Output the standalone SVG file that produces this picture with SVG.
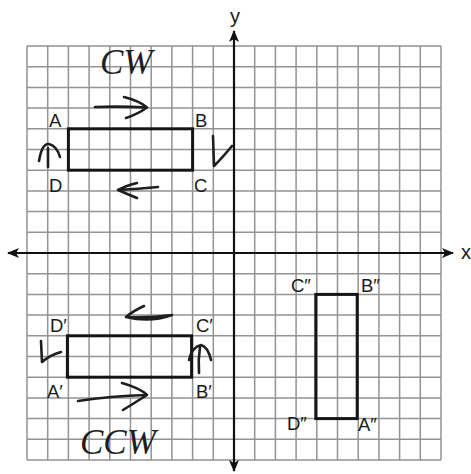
<svg xmlns="http://www.w3.org/2000/svg" width="471" height="474" viewBox="0 0 471 474">
<style>
.grid{fill:none;stroke:#939393;stroke-width:1.5}
.axis{fill:none;stroke:#111;stroke-width:2.2}
.shape{fill:none;stroke:#151515;stroke-width:3}
.lbl{font-family:"Liberation Sans",Arial,sans-serif;font-size:18.5px;fill:#1a1a1a}
.ax{font-family:"Liberation Sans",Arial,sans-serif;font-size:20px;fill:#1a1a1a}
.hand{fill:none;stroke:#1e1e1e;stroke-width:2.6;stroke-linecap:round;stroke-linejoin:round}
.htxt{font-family:"Liberation Serif",serif;font-style:italic;font-size:35px;fill:#1e1e1e}
</style>
<defs>
<marker id="ah" viewBox="0 0 12 10" refX="11" refY="5" markerWidth="12" markerHeight="10" markerUnits="userSpaceOnUse" orient="auto">
<path d="M0,0 L12,5 L0,10 L3,5 Z" fill="#111"/>
</marker>
</defs>
<rect width="471" height="474" fill="#fff"/>
<g id="grid">
<path class="grid" d="M27,46V460M47.7,46V460M68.4,46V460M89.1,46V460M109.8,46V460M130.5,46V460M151.2,46V460M171.9,46V460M192.6,46V460M213.3,46V460M254.7,46V460M275.4,46V460M296.1,46V460M316.8,46V460M337.5,46V460M358.2,46V460M378.9,46V460M399.6,46V460M420.3,46V460M441,46V460
M27,46H441M27,66.7H441M27,87.4H441M27,108.1H441M27,128.8H441M27,149.5H441M27,170.2H441M27,190.9H441M27,211.6H441M27,232.3H441M27,273.7H441M27,294.4H441M27,315.1H441M27,335.8H441M27,356.5H441M27,377.2H441M27,397.9H441M27,418.6H441M27,439.3H441M27,460H441"/>
</g>
<g id="axes">
<line class="axis" x1="234" y1="253" x2="453" y2="253" marker-end="url(#ah)"/>
<line class="axis" x1="234" y1="253" x2="8" y2="253" marker-end="url(#ah)"/>
<line class="axis" x1="234" y1="253" x2="234" y2="31" marker-end="url(#ah)"/>
<line class="axis" x1="234" y1="253" x2="234" y2="471" marker-end="url(#ah)"/>
<text class="ax" x="461" y="259">x</text>
<text class="ax" x="235" y="23" text-anchor="middle">y</text>
</g>
<g id="ABCD">
<rect class="shape" x="68.4" y="128.8" width="124.2" height="41.4"/>
<text class="lbl" x="49" y="127">A</text>
<text class="lbl" x="195" y="127">B</text>
<text class="lbl" x="194" y="192">C</text>
<text class="lbl" x="49" y="192">D</text>
</g>
<g id="A1B1C1D1">
<rect class="shape" x="67.4" y="335.8" width="124.2" height="41.4"/>
<text class="lbl" x="47" y="398">A′</text>
<text class="lbl" x="196" y="398">B′</text>
<text class="lbl" x="196" y="332">C′</text>
<text class="lbl" x="50" y="332">D′</text>
</g>
<g id="A2B2C2D2">
<rect class="shape" x="315.8" y="294.4" width="41.4" height="124.2"/>
<text class="lbl" x="358" y="431">A″</text>
<text class="lbl" x="361" y="292">B″</text>
<text class="lbl" x="291" y="292">C″</text>
<text class="lbl" x="287" y="430">D″</text>
</g>
<g id="annotations">
<text class="htxt" x="100" y="74">CW</text>
<path class="hand" d="M95,107 Q120,106 147,107.5 M124,97 Q140,101 147,107.5 Q138,114 126,118"/>
<path class="hand" d="M158,187 Q138,189 118,190 M137,183 Q125,186 118,190 Q127,194 137,198"/>
<path class="hand" d="M48,167 L48,148 M39,161 Q42,143 49,144 Q57,146 60,157"/>
<path class="hand" d="M213,136 L214,166 Q222,158 232,146"/>
<text class="htxt" x="80" y="454">CCW</text>
<path class="hand" d="M78,401 Q110,396 147,395 M122,383 Q140,388 147,395 Q136,402 123,410"/>
<path class="hand" d="M172,315 Q150,318 126,317 M144,306 Q133,311 126,317 Q150,323 172,315"/>
<path class="hand" d="M41,341 L42,362 Q50,355 61,352"/>
<path class="hand" d="M199,373 Q198,360 200,347 M189,360 Q192,347 201,345 Q208,347 211,360"/>
</g>
</svg>
